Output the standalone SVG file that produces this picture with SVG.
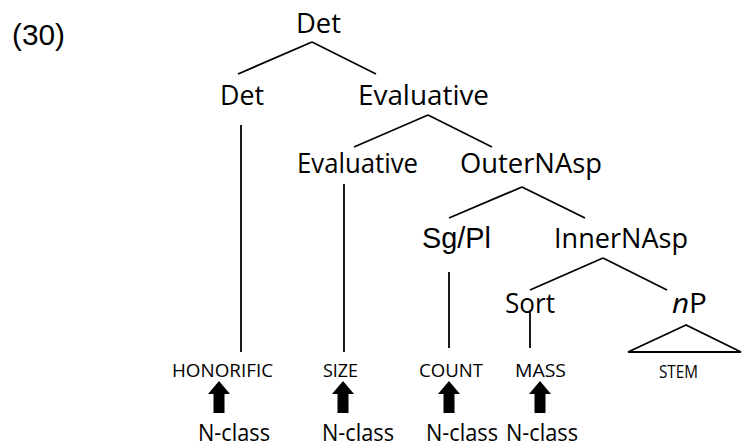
<svg xmlns="http://www.w3.org/2000/svg" width="742" height="448" viewBox="0 0 742 448">
<style>
.lbl{font-family:"Open Sans","Noto Sans","Liberation Sans",sans-serif;font-size:28px;fill:#000}
.ar{font-family:"Liberation Sans",Arial,sans-serif;font-size:29px;fill:#000}
.sm{font-family:"Open Sans","Noto Sans","Liberation Sans",sans-serif;font-size:19px;fill:#000}
.nc{font-family:"Open Sans","Noto Sans","Liberation Sans",sans-serif;font-size:23px;fill:#000}
.ln{stroke:#000;stroke-width:1.8;fill:none}
.arrow{fill:#000}
</style>
<defs>
<polygon id="uparrow" class="arrow" points="0,0 11,13 5.5,13 5.5,32 -5.5,32 -5.5,13 -11,13"/>
</defs>
<rect width="742" height="448" fill="#fff"/>
<text class="ar" x="12" y="45" textLength="53" lengthAdjust="spacingAndGlyphs">(30)</text>

<g id="connectors" class="ln">
<line x1="312" y1="42" x2="238" y2="74"/>
<line x1="312" y1="42" x2="376" y2="74"/>
<line x1="428" y1="115" x2="354" y2="147"/>
<line x1="428" y1="115" x2="492" y2="147"/>
<line x1="522" y1="187" x2="449" y2="218"/>
<line x1="522" y1="187" x2="585" y2="218"/>
<line x1="603" y1="258" x2="530" y2="290"/>
<line x1="603" y1="258" x2="667" y2="290"/>
<line x1="241" y1="125" x2="241" y2="352"/>
<line x1="344" y1="184" x2="344" y2="352"/>
<line x1="449" y1="272" x2="449" y2="348"/>
<line x1="530" y1="310" x2="530" y2="348"/>
<polygon points="686,325 628,352 741,352"/>
</g>

<g id="det-top"><text class="lbl" x="296" y="33" textLength="45" lengthAdjust="spacingAndGlyphs">Det</text></g>
<g id="det"><text class="lbl" x="220" y="105" textLength="44" lengthAdjust="spacingAndGlyphs">Det</text></g>
<g id="evaluative-top"><text class="lbl" x="358" y="105" textLength="131" lengthAdjust="spacingAndGlyphs">Evaluative</text></g>
<g id="evaluative"><text class="lbl" x="297" y="173" textLength="121" lengthAdjust="spacingAndGlyphs">Evaluative</text></g>
<g id="outernasp"><text class="lbl" x="460" y="173" textLength="142" lengthAdjust="spacingAndGlyphs">OuterNAsp</text></g>
<g id="sgpl"><text class="ar" x="422" y="248" textLength="69" lengthAdjust="spacingAndGlyphs">Sg/Pl</text></g>
<g id="innernasp"><text class="lbl" x="554" y="248" textLength="134" lengthAdjust="spacingAndGlyphs">InnerNAsp</text></g>
<g id="sort"><text class="lbl" x="505" y="313" textLength="50" lengthAdjust="spacingAndGlyphs">Sort</text></g>
<g id="np"><text class="lbl" x="672" y="313" textLength="35" lengthAdjust="spacingAndGlyphs"><tspan font-style="italic">n</tspan>P</text></g>
<g id="stem"><text class="sm" x="659" y="378" textLength="39" lengthAdjust="spacingAndGlyphs">STEM</text></g>

<g id="honorific">
<text class="sm" x="172" y="377" textLength="101" lengthAdjust="spacingAndGlyphs">HONORIFIC</text>
<use href="#uparrow" x="219" y="381"/>
<text class="nc" x="198" y="441" textLength="72" lengthAdjust="spacingAndGlyphs">N-class</text>
</g>
<g id="size">
<text class="sm" x="323" y="377" textLength="35" lengthAdjust="spacingAndGlyphs">SIZE</text>
<use href="#uparrow" x="343" y="381"/>
<text class="nc" x="322" y="441" textLength="72" lengthAdjust="spacingAndGlyphs">N-class</text>
</g>
<g id="count">
<text class="sm" x="419" y="377" textLength="64" lengthAdjust="spacingAndGlyphs">COUNT</text>
<use href="#uparrow" x="449" y="381"/>
<text class="nc" x="426" y="441" textLength="72" lengthAdjust="spacingAndGlyphs">N-class</text>
</g>
<g id="mass">
<text class="sm" x="515" y="377" textLength="51" lengthAdjust="spacingAndGlyphs">MASS</text>
<use href="#uparrow" x="540" y="381"/>
<text class="nc" x="506" y="441" textLength="72" lengthAdjust="spacingAndGlyphs">N-class</text>
</g>
</svg>
